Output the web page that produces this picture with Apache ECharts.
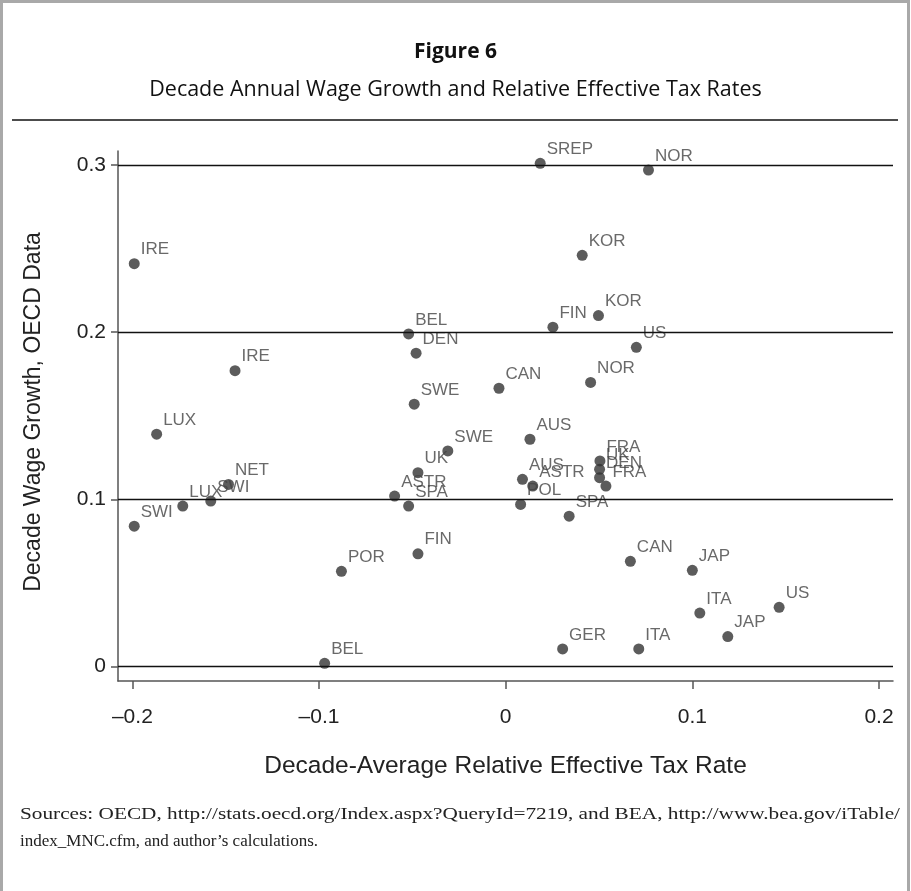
<!DOCTYPE html>
<html>
<head>
<meta charset="utf-8">
<script src="https://cdn.jsdelivr.net/npm/echarts@6/dist/echarts.min.js"></script>
<style>
  html, body { margin: 0; padding: 0; background: #fff; }
  #chart { width: 911px; height: 891px; }
</style>
</head>
<body>
<div id="chart"></div>
<script>
// Country codes, one per decade observation
const countries = [
  'IRE', 'IRE', 'LUX', 'NET', 'SWI', 'LUX', 'SWI', 'POR', 'BEL',
  'BEL', 'DEN', 'SWE', 'SWE', 'UK', 'ASTR', 'SPA', 'FIN', 'CAN',
  'AUS', 'AUS', 'ASTR', 'POL', 'SPA', 'SREP', 'NOR', 'KOR', 'KOR',
  'FIN', 'US', 'NOR', 'FRA', 'UK', 'DEN', 'FRA', 'CAN', 'JAP',
  'ITA', 'US', 'JAP', 'ITA', 'GER'
];
// Decade-average relative effective tax rate
const taxRate = [
  -0.199, -0.145, -0.187, -0.1485, -0.158, -0.173, -0.199, -0.088, -0.097,
  -0.052, -0.048, -0.049, -0.031, -0.047, -0.0595, -0.052, -0.047, -0.0036,
  0.013, 0.009, 0.0145, 0.008, 0.034, 0.0185, 0.0765, 0.041, 0.0497,
  0.0253, 0.070, 0.0455, 0.0505, 0.0503, 0.0503, 0.0537, 0.0668, 0.100,
  0.104, 0.1465, 0.119, 0.0713, 0.0305
];
// Decade annual wage growth (OECD data)
const wageGrowth = [
  0.241, 0.177, 0.139, 0.109, 0.099, 0.096, 0.084, 0.057, 0.002,
  0.199, 0.1875, 0.157, 0.129, 0.116, 0.102, 0.096, 0.0675, 0.1665,
  0.136, 0.112, 0.108, 0.097, 0.090, 0.301, 0.297, 0.246, 0.210,
  0.203, 0.191, 0.170, 0.123, 0.118, 0.113, 0.108, 0.063, 0.0576,
  0.032, 0.0355, 0.018, 0.0106, 0.0106
];
// Axis tick labels
const xTicks = [-0.2, -0.1, 0, 0.1, 0.2];
const yTicks = [0, 0.1, 0.2, 0.3];

const points = countries.map((c, i) => ({ name: c, value: [taxRate[i], wageGrowth[i]] }));
const fmtTick = v => (v < 0 ? '\u2013' : '') + String(Math.abs(v));

// Source note: the first line is set to the full text width, the second is left aligned
const noteFont = '17px "Liberation Serif"';
const noteLine1 = 'Sources: OECD, http://stats.oecd.org/Index.aspx?QueryId=7219, and BEA, http://www.bea.gov/iTable/';
const noteLine2 = 'index_MNC.cfm, and author\u2019s calculations.';
const noteLeft = 20, noteRight = 900;

function fullWidthLine(text, top) {
  const ctx = document.createElement('canvas').getContext('2d');
  ctx.font = noteFont;
  const w = ctx.measureText(text).width;
  return { type: 'text', x: noteLeft, y: top, scaleX: (noteRight - noteLeft) / w, silent: true,
           style: { text: text, font: noteFont, fill: '#222' } };
}

const chart = echarts.init(document.getElementById('chart'), null, { renderer: 'canvas' });

chart.setOption({
  backgroundColor: '#fff',
  animation: false,
  title: [
    {
      text: 'Figure 6', left: 'center', top: 37,
      textStyle: { fontFamily: 'Open Sans', fontWeight: 'bold', fontSize: 21, color: '#111' }
    },
    {
      text: 'Decade Annual Wage Growth and Relative Effective Tax Rates', left: 'center', top: 74,
      textStyle: { fontFamily: 'Open Sans', fontWeight: 'normal', fontSize: 21.5, color: '#111' }
    }
  ],
  graphic: [
    { type: 'rect', shape: { x: 1.5, y: 1.5, width: 907, height: 920 },
      style: { fill: null, stroke: '#a9a9a9', lineWidth: 3 }, silent: true },
    { type: 'line', shape: { x1: 12, y1: 120, x2: 898, y2: 120 },
      style: { stroke: '#111', lineWidth: 1.5 }, silent: true },
    fullWidthLine(noteLine1, 806),
    { type: 'text', x: noteLeft, y: 833, silent: true,
      style: { text: noteLine2, font: noteFont, fill: '#222' } }
  ],
  grid: { left: 118, top: 151, width: 775, height: 530, containLabel: false },
  xAxis: {
    type: 'value', min: -0.2077, max: 0.2075,
    name: 'Decade-Average Relative Effective Tax Rate',
    nameLocation: 'middle', nameGap: 73,
    nameTextStyle: { fontFamily: 'Liberation Sans', fontSize: 24.5, color: '#222' },
    axisLine: { show: true, onZero: false, lineStyle: { color: '#555', width: 1.5 } },
    axisTick: { show: true, length: 8, customValues: xTicks, lineStyle: { color: '#555', width: 1.5 } },
    axisLabel: { customValues: xTicks, formatter: fmtTick, margin: 26,
                 fontFamily: 'Liberation Sans', fontSize: 21, color: '#222' },
    splitLine: { show: false }
  },
  yAxis: {
    type: 'value', min: -0.0086, max: 0.3084,
    name: 'Decade Wage Growth, OECD Data',
    nameLocation: 'middle', nameGap: 73,
    nameTextStyle: { fontFamily: 'Liberation Sans', fontSize: 23, color: '#222', padding: [0, 0, 0, 8] },
    axisLine: { show: true, onZero: false, lineStyle: { color: '#555', width: 1.5 } },
    axisTick: { show: true, length: 7, customValues: yTicks, lineStyle: { color: '#555', width: 1.5 } },
    axisLabel: { customValues: yTicks, formatter: fmtTick, margin: 12,
                 fontFamily: 'Liberation Sans', fontSize: 21, color: '#222' },
    splitLine: { show: false }
  },
  series: [{
    type: 'scatter',
    data: points,
    symbol: 'circle',
    symbolSize: 11,
    clip: false,
    itemStyle: { color: '#333' },
    label: {
      show: true, formatter: '{b}', position: 'right', distance: 1, offset: [0, -14],
      fontFamily: 'Liberation Sans', fontSize: 17, color: '#444'
    },
    emphasis: { disabled: true },
    markLine: {
      silent: true, symbol: 'none', animation: false,
      label: { show: false },
      lineStyle: { color: '#111', width: 1.3, type: 'solid' },
      data: yTicks.map(v => ({ yAxis: v }))
    },
    z: 3
  }]
});
</script>
</body>
</html>
